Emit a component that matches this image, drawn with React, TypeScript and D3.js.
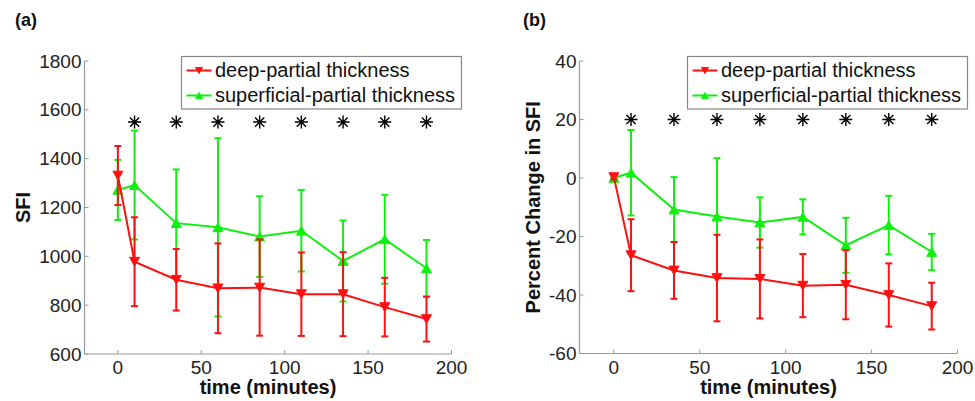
import React from "react";
import * as d3 from "d3";

const time = [0, 10, 35, 60, 85, 110, 135, 160, 185];
const sfiDeep = [1331, 978, 904, 869, 872, 845, 845, 792, 743];
const sfiDeepErr = [121, 182, 126, 184, 197, 171, 172, 120, 92];
const sfiSup = [1272, 1292, 1136, 1119, 1081, 1105, 981, 1070, 951];
const sfiSupErr = [123, 223, 220, 365, 165, 167, 166, 182, 116];

const pctDeep = [0.3, -26.4, -31.6, -34.2, -34.5, -36.8, -36.5, -40, -43.8];
const pctDeepErr = [0.8, 12.3, 9.7, 14.8, 13.5, 10.8, 11.8, 10.8, 8];
const pctSup = [0, 1.8, -10.8, -13.2, -15.2, -13.3, -23, -16.1, -25.3];
const pctSupErr = [0.5, 14.6, 11.1, 20, 8.6, 6, 9.4, 10, 6.2];

const starTimes = [10, 35, 60, 85, 110, 135, 160, 185];
const xTicks = [0, 50, 100, 150, 200];
const sfiTicks = [600, 800, 1000, 1200, 1400, 1600, 1800];
const pctTicks = [-60, -40, -20, 0, 20, 40];
const seriesNames = ["deep-partial thickness", "superficial-partial thickness"];

const RED = "#ff1010";
const GREEN = "#10f010";
const AXIS = "#999";
const FONT = "'Liberation Sans', Arial, sans-serif";

type PanelProps = {
  x0: number; x1: number; y0: number; y1: number;
  yDomain: [number, number]; yTicks: number[];
  deep: number[]; deepErr: number[]; sup: number[]; supErr: number[];
  starY: number; label: string; ylabel: string; ylabelX: number; letterX: number;
  legendX: number; legendW: number;
};

function down(cx: number, cy: number, s: number) {
  const h = s * 0.87;
  return `M${cx - s / 2},${cy - h / 2}L${cx + s / 2},${cy - h / 2}L${cx},${cy + h / 2}Z`;
}
function up(cx: number, cy: number, s: number) {
  const h = s * 0.87;
  return `M${cx - s / 2},${cy + h / 2}L${cx + s / 2},${cy + h / 2}L${cx},${cy - h / 2}Z`;
}
function star(cx: number, cy: number, r: number) {
  const d = r * 0.7071;
  return `M${cx - r},${cy}L${cx + r},${cy}M${cx},${cy - r}L${cx},${cy + r}M${cx - d},${cy - d}L${cx + d},${cy + d}M${cx - d},${cy + d}L${cx + d},${cy - d}`;
}

function Series({ xs, ys, es, color, isUp, x, y }: any) {
  const line = d3.line<number>().x((_, i) => x(xs[i])).y((v) => y(v));
  const cap = 3.5;
  return (
    <g>
      {ys.map((v: number, i: number) => {
        const px = x(xs[i]);
        const top = y(v + es[i]);
        const bot = y(v - es[i]);
        return (
          <g key={i} stroke={color} strokeWidth={2}>
            <line x1={px} x2={px} y1={top} y2={bot} />
            <line x1={px - cap} x2={px + cap} y1={top} y2={top} />
            <line x1={px - cap} x2={px + cap} y1={bot} y2={bot} />
          </g>
        );
      })}
      <path d={line(ys) || ""} fill="none" stroke={color} strokeWidth={2} />
      {ys.map((v: number, i: number) => (
        <path key={i} d={isUp ? up(x(xs[i]), y(v), 10) : down(x(xs[i]), y(v), 10)} fill={color} stroke={color} strokeWidth={1} />
      ))}
    </g>
  );
}

function Panel(p: PanelProps) {
  const x = d3.scaleLinear().domain([-20, 200]).range([p.x0, p.x1]);
  const y = d3.scaleLinear().domain(p.yDomain).range([p.y1, p.y0]);
  const midX = (p.x0 + p.x1) / 2;
  const midY = (p.y0 + p.y1) / 2;
  const lx = p.legendX;
  const ly = 56.5;
  return (
    <g fontFamily={FONT}>
      <text x={p.letterX} y={26} fontSize={18} fontWeight="bold" fill="#111">{p.label}</text>
      <line x1={p.x0} x2={p.x0} y1={p.y0} y2={p.y1} stroke={AXIS} strokeWidth={1.2} />
      <line x1={p.x0} x2={p.x1} y1={p.y1} y2={p.y1} stroke={AXIS} strokeWidth={1.2} />
      {p.yTicks.map((t) => (
        <g key={t}>
          <line x1={p.x0} x2={p.x0 + 4} y1={y(t)} y2={y(t)} stroke={AXIS} strokeWidth={1} />
          <text x={p.x0 - 3} y={y(t)} dy="0.35em" textAnchor="end" fontSize={19} fill="#222">{t}</text>
        </g>
      ))}
      {xTicks.map((t) => (
        <g key={t}>
          <line x1={x(t)} x2={x(t)} y1={p.y1} y2={p.y1 - 4} stroke={AXIS} strokeWidth={1} />
          <text x={x(t)} y={374} textAnchor="middle" fontSize={19} fill="#222">{t}</text>
        </g>
      ))}
      <text x={midX} y={394} textAnchor="middle" fontSize={20} fontWeight="bold" fill="#111">time (minutes)</text>
      <text transform={`translate(${p.ylabelX},${midY}) rotate(-90)`} textAnchor="middle" fontSize={20} fontWeight="bold" fill="#111">{p.ylabel}</text>
      {starTimes.map((t) => (
        <path key={t} d={star(x(t), y(p.starY), 6.5)} stroke="#000" strokeWidth={1.4} fill="none" />
      ))}
      <Series xs={time} ys={p.sup} es={p.supErr} color={GREEN} isUp={true} x={x} y={y} />
      <Series xs={time} ys={p.deep} es={p.deepErr} color={RED} isUp={false} x={x} y={y} />
      <rect x={lx} y={ly} width={p.legendW} height={52.5} fill="#fff" stroke="#888" strokeWidth={1.2} />
      <line x1={lx + 5} x2={lx + 30} y1={70.5} y2={70.5} stroke={RED} strokeWidth={2} />
      <path d={down(lx + 17.5, 70.5, 7)} fill={RED} stroke={RED} />
      <text x={lx + 33.5} y={77} fontSize={20} fill="#111">{seriesNames[0]}</text>
      <line x1={lx + 5} x2={lx + 30} y1={95.5} y2={95.5} stroke={GREEN} strokeWidth={2} />
      <path d={up(lx + 17.5, 95.5, 7)} fill={GREEN} stroke={GREEN} />
      <text x={lx + 33.5} y={101.5} fontSize={20} fill="#111">{seriesNames[1]}</text>
    </g>
  );
}

export default function App() {
  return (
    <svg width={975} height={401} style={{ position: "absolute", left: 0, top: 0, background: "#fff" }}>
      <rect width={975} height={401} fill="#fff" />
      <Panel x0={84.5} x1={451.5} y0={61} y1={354} yDomain={[600, 1800]} yTicks={sfiTicks}
        deep={sfiDeep} deepErr={sfiDeepErr} sup={sfiSup} supErr={sfiSupErr}
        starY={1550} label="(a)" ylabel="SFI" ylabelX={30} letterX={15}
        legendX={181.5} legendW={280} />
      <Panel x0={579.5} x1={957.5} y0={61} y1={353.5} yDomain={[-60, 40]} yTicks={pctTicks}
        deep={pctDeep} deepErr={pctDeepErr} sup={pctSup} supErr={pctSupErr}
        starY={20} label="(b)" ylabel="Percent Change in SFI" ylabelX={540} letterX={523}
        legendX={687.5} legendW={280} />
    </svg>
  );
}
